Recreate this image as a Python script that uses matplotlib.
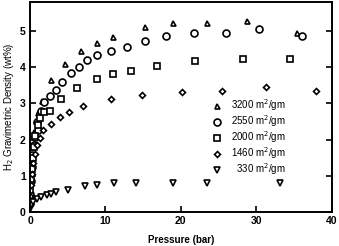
import matplotlib
matplotlib.use("Agg")
import matplotlib.pyplot as plt

plt.rcParams['font.family'] = ['Liberation Sans', 'DejaVu Sans']

# 3200 m2/gm (up triangles)
p3200 = [0.03, 0.06, 0.1, 0.2, 0.3, 0.5, 0.8, 1.06, 1.6, 2.85, 4.6, 6.7, 8.9, 11.0, 15.2, 18.9, 23.5, 28.8, 35.4]
w3200 = [0.3, 0.6, 1.0, 1.4, 1.8, 2.2, 2.5, 2.73, 3.07, 3.65, 4.08, 4.45, 4.67, 4.83, 5.10, 5.21, 5.22, 5.28, 4.94]

# 2550 m2/gm (circles)
p2550 = [0.02, 0.05, 0.1, 0.2, 0.3, 0.5, 0.7, 1.0, 0.9, 1.4, 1.8, 2.7, 3.5, 4.24, 5.4, 6.5, 7.6, 8.83, 10.8, 12.8, 15.26, 18.05, 21.8, 26.0, 30.4, 36.1]
w2550 = [0.25, 0.5, 0.85, 1.25, 1.57, 1.85, 2.08, 2.27, 2.49, 2.79, 3.05, 3.20, 3.37, 3.60, 3.83, 4.01, 4.20, 4.34, 4.46, 4.57, 4.73, 4.85, 4.94, 4.94, 5.04, 4.86]

# 2000 m2/gm (squares)
p2000 = [0.02, 0.05, 0.1, 0.2, 0.35, 0.5, 0.7, 1.0, 1.3, 1.9, 2.6, 4.13, 6.26, 8.83, 10.95, 13.35, 16.8, 21.85, 28.2, 34.5]
w2000 = [0.3, 0.6, 0.9, 1.2, 1.5, 1.8, 2.1, 2.4, 2.6, 2.77, 2.79, 3.12, 3.43, 3.67, 3.81, 3.90, 4.03, 4.16, 4.23, 4.22]

# 1460 m2/gm (diamonds)
p1460 = [0.02, 0.05, 0.1, 0.2, 0.35, 0.6, 0.93, 1.39, 1.72, 2.78, 4.04, 5.17, 7.06, 10.8, 14.86, 20.1, 25.5, 31.3, 37.9]
w1460 = [0.2, 0.45, 0.75, 1.05, 1.35, 1.6, 1.85, 2.04, 2.27, 2.43, 2.63, 2.77, 2.92, 3.11, 3.23, 3.32, 3.34, 3.45, 3.35]

# 330 m2/gm (down triangles)
p330 = [0.03, 0.13, 0.4, 0.97, 1.5, 2.2, 2.85, 3.5, 5.0, 7.3, 8.9, 11.1, 14.0, 18.9, 23.5, 33.2]
w330 = [0.08, 0.19, 0.28, 0.35, 0.41, 0.46, 0.50, 0.55, 0.61, 0.72, 0.74, 0.80, 0.81, 0.81, 0.81, 0.79]

labels = ["3200 m$^2$/gm", "2550 m$^2$/gm", "2000 m$^2$/gm", "1460 m$^2$/gm", "\u2007330 m$^2$/gm"]
xticks = [0, 10, 20, 30, 40]
yticks = [0, 1, 2, 3, 4, 5]

fig = plt.figure(figsize=(3.39, 2.46), dpi=100)
ax = fig.add_axes([0.0885, 0.138, 0.89, 0.854])

series = [(p3200, w3200, '^', 3.6), (p2550, w2550, 'o', 5.0), (p2000, w2000, 's', 3.8),
          (p1460, w1460, 'D', 3.0), (p330, w330, 'v', 3.8)]
for (p, w, m, ms), lab in zip(series, labels):
    ax.plot(p, w, linestyle='none', marker=m, markersize=ms, markerfacecolor='white',
            markeredgecolor='black', markeredgewidth=1.2, label=lab)

ax.set_xlim(0, 40)
ax.set_ylim(0, 5.8)
ax.set_xticks(xticks)
ax.set_yticks(yticks)
ax.tick_params(direction='in', length=4, width=1.2, labelsize=7.5, right=True, top=False, pad=3)
for lab in ax.get_xticklabels() + ax.get_yticklabels():
    lab.set_fontweight('bold')
for s in ax.spines.values():
    s.set_linewidth(1.4)

ax.set_xlabel("Pressure (bar)", fontsize=7, fontweight='bold', labelpad=6)
ax.set_ylabel("H$_2$ Gravimetric Density (wt%)", fontsize=7, labelpad=3)

leg = ax.legend(loc='lower right', bbox_to_anchor=(0.86, 0.148), frameon=False, fontsize=7,
                handletextpad=0.9, labelspacing=0.02, borderaxespad=0, handlelength=1.0)

fig.savefig("out.png", dpi=100)
